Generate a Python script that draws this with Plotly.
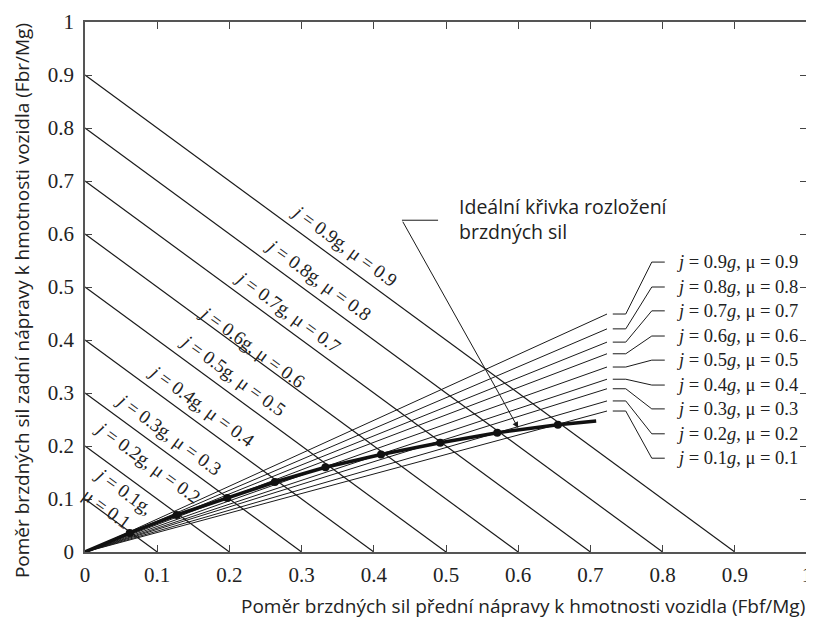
import plotly.graph_objects as go

# ---- data ----
j_values = [0.1, 0.2, 0.3, 0.4, 0.5, 0.6, 0.7, 0.8, 0.9]
# ideal braking curve: points at each j (front, rear), plus curve end
ideal_x = [0.0, 0.062, 0.127, 0.197, 0.263, 0.333, 0.41, 0.492, 0.571, 0.655, 0.708]
ideal_y = [0.0, 0.036, 0.070, 0.102, 0.132, 0.160, 0.184, 0.206, 0.225, 0.240, 0.247]
# fixed-distribution rays from origin, end points (top ray = j 0.9 ... bottom = j 0.1)
ray_end_x = 0.723
ray_end_y = [0.449, 0.421, 0.396, 0.374, 0.349, 0.326, 0.308, 0.285, 0.266]
ray_labels = ["0.9", "0.8", "0.7", "0.6", "0.5", "0.4", "0.3", "0.2", "0.1"]
# centres of the labels on the constant-deceleration lines
diag_label_x = [0.044, 0.086, 0.115, 0.162, 0.204, 0.231, 0.281, 0.324, 0.360]
diag_label_y = [0.096, 0.170, 0.223, 0.277, 0.334, 0.387, 0.453, 0.515, 0.579]
tick_vals = [0, 0.1, 0.2, 0.3, 0.4, 0.5, 0.6, 0.7, 0.8, 0.9, 1]
tick_text = ["0", "0.1", "0.2", "0.3", "0.4", "0.5", "0.6", "0.7", "0.8", "0.9", "1"]

LINE = "#1a1a1a"
SERIF = "Liberation Serif"
SANS = "Open Sans"

fig = go.Figure()

# constant deceleration lines x + y = j
dx, dy = [], []
for j in j_values:
    dx += [0, j, None]
    dy += [j, 0, None]
fig.add_trace(go.Scatter(x=dx, y=dy, mode="lines", line=dict(color=LINE, width=1.2),
                         hoverinfo="skip", showlegend=False))

# rays
rx, ry = [], []
for yv in ray_end_y:
    rx += [0, ray_end_x, None]
    ry += [0, yv, None]
fig.add_trace(go.Scatter(x=rx, y=ry, mode="lines", line=dict(color=LINE, width=1),
                         hoverinfo="skip", showlegend=False))

# leader lines to right labels
label_y = [0.547, 0.500, 0.455, 0.4075, 0.362, 0.315, 0.270, 0.223, 0.177]
lx, ly = [], []
for yv, ly_ in zip(ray_end_y, label_y):
    lx += [0.731, 0.749, 0.785, 0.803, None]
    ly += [yv, yv, ly_, ly_, None]
fig.add_trace(go.Scatter(x=lx, y=ly, mode="lines", line=dict(color=LINE, width=1),
                         hoverinfo="skip", showlegend=False))

# ideal curve
fig.add_trace(go.Scatter(x=ideal_x, y=ideal_y, mode="lines", line=dict(color="#111", width=3.5),
                         hoverinfo="skip", showlegend=False))
fig.add_trace(go.Scatter(x=ideal_x[1:-1], y=ideal_y[1:-1], mode="markers",
                         marker=dict(color="#111", size=8), hoverinfo="skip", showlegend=False))

annotations = []
# right labels
for lab, yv in zip(ray_labels, label_y):
    annotations.append(dict(x=0.817, y=yv, xref="x", yref="y", xanchor="left", yanchor="middle",
                            text=f"<i>j</i> = {lab}<i>g</i>, μ = {lab}", showarrow=False,
                            font=dict(family=SERIF, size=18.5, color="#222")))
# diagonal labels
for j, xl, yl in zip(j_values, diag_label_x, diag_label_y):
    if j == 0.1:
        txt = "<i>j</i> = 0.1g,<br>μ = 0.1"
    else:
        txt = f"<i>j</i> = {j:.1f}g, μ = {j:.1f}"
    annotations.append(dict(x=xl, y=yl, xref="x", yref="y", xanchor="center", yanchor="middle",
                            text=txt, showarrow=False, textangle=36.3, align="left",
                            font=dict(family=SERIF, size=19, color="#222")))
# ideal curve callout
annotations.append(dict(x=0.600, y=0.234, ax=0.439, ay=0.626, xref="x", yref="y",
                        axref="x", ayref="y", text="", showarrow=True, arrowhead=2,
                        arrowsize=1.2, arrowwidth=1, arrowcolor=LINE))
annotations.append(dict(x=0.515, y=0.628, xref="x", yref="y", xanchor="left", yanchor="middle",
                        text="Ideální křivka rozložení<br>brzdných sil", showarrow=False, align="left",
                        font=dict(family=SANS, size=19.5, color="#222")))
# axis titles
annotations.append(dict(x=0.607, y=-0.102, xref="paper", yref="paper", xanchor="center",
                        yanchor="middle",
                        text="Poměr brzdných sil přední nápravy k hmotnosti vozidla (Fbf/Mg)",
                        showarrow=False, font=dict(family=SANS, size=19, color="#222")))
annotations.append(dict(x=-0.0875, y=0.475, xref="paper", yref="paper", xanchor="center",
                        yanchor="middle",
                        text="Poměr brzdných sil zadní nápravy k hmotnosti vozidla (Fbr/Mg)",
                        textangle=-90, showarrow=False, font=dict(family=SANS, size=19, color="#222")))

fig.add_shape(type="line", x0=0.439, y0=0.626, x1=0.489, y1=0.626, xref="x", yref="y",
              line=dict(color=LINE, width=1))

axis_common = dict(range=[0, 1], tickvals=tick_vals, ticktext=tick_text, ticks="inside",
                   ticklen=7, tickcolor="#444", showline=True, linecolor="#555", linewidth=1.5,
                   mirror="ticks", showgrid=False, zeroline=False, automargin=False,
                   tickfont=dict(family=SERIF, size=21, color="#222"))

# page body adds an 8px margin, so the figure is drawn 8px smaller
fig.update_layout(
    width=806, height=611,
    margin=dict(l=77, r=7, t=14, b=67),
    paper_bgcolor="white", plot_bgcolor="white",
    xaxis=dict(**axis_common, ticklabelstandoff=3),
    yaxis=dict(**axis_common, ticklabelstandoff=5),
    annotations=annotations,
    showlegend=False,
)
fig.write_html("out.html")
